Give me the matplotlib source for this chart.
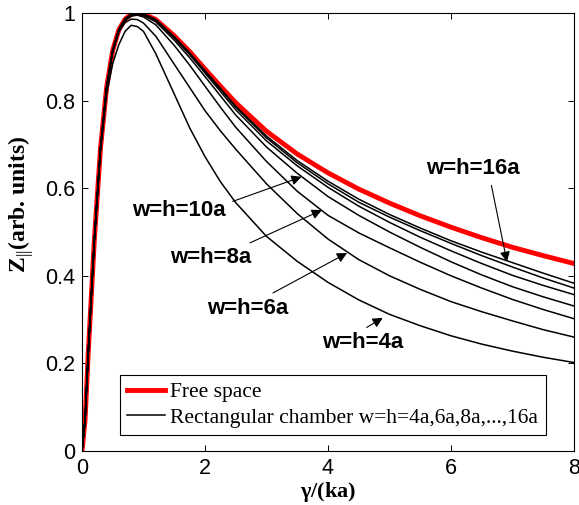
import numpy as np
import matplotlib
matplotlib.use('Agg')
from matplotlib import pyplot as plt

# gamma/(ka) sample points
gamma = [0, 0.05, 0.1, 0.2, 0.3, 0.4, 0.5, 0.6, 0.7, 0.8, 0.9, 1.0, 1.2, 1.5, 1.75,
         2, 2.25, 2.5, 3, 3.5, 4, 4.5, 5, 5.5, 6, 6.5, 7, 7.5, 8]

z_free = [0, .07, .22, .48, .69, .83, .915, .962, .986, .997, 1.0, .998, .985, .948, .912,
          .872, .833, .795, .73, .678, .635, .598, .566, .537, .511, .487, .465, .446, .428]
z_16a = [0, .07, .22, .48, .69, .83, .915, .962, .986, .997, 1.0, .998, .985, .946, .909,
         .868, .828, .787, .719, .663, .616, .575, .540, .509, .480, .454, .430, .406, .383]
z_14a = [0, .07, .22, .48, .69, .83, .915, .962, .986, .997, 1.0, .997, .984, .945, .907,
         .866, .826, .785, .715, .658, .610, .568, .534, .503, .474, .446, .420, .395, .372]
z_12a = [0, .07, .22, .48, .69, .83, .915, .962, .986, .997, .999, .996, .983, .943, .905,
         .863, .821, .779, .708, .651, .602, .559, .522, .488, .457, .428, .401, .378, .357]
z_10a = [0, .07, .22, .48, .69, .83, .915, .962, .985, .996, .998, .995, .980, .938, .898,
         .855, .811, .767, .694, .634, .581, .538, .500, .465, .432, .402, .375, .352, .331]
z_8a = [0, .07, .22, .48, .69, .83, .914, .960, .983, .993, .995, .991, .973, .926, .881,
        .833, .785, .739, .661, .593, .538, .498, .464, .431, .400, .372, .346, .323, .302]
z_6a = [0, .07, .22, .48, .69, .83, .912, .957, .978, .986, .985, .977, .947, .883, .830,
        .777, .731, .689, .610, .542, .484, .437, .400, .369, .341, .318, .297, .277, .260]
z_4a = [0, .07, .22, .48, .685, .815, .885, .928, .958, .972, .969, .958, .907, .815, .738,
        .672, .615, .567, .490, .433, .385, .345, .312, .286, .263, .244, .228, .214, .202]

chamber = [z_4a, z_6a, z_8a, z_10a, z_12a, z_14a, z_16a]

# (label, arrow head, text centre, arrow start on the text box)
notes = [
    ('w=h=10a', (3.57, 0.626), (1.58, 0.55), (1.0, 0.8)),
    ('w=h=8a', (3.90, 0.550), (2.10, 0.441), (0.8, 0.9)),
    ('w=h=6a', (4.31, 0.452), (2.70, 0.326), (0.65, 0.9)),
    ('w=h=4a', (4.89, 0.304), (4.57, 0.247), (0.4, 0.9)),
    ('w=h=16a', (6.91, 0.432), (6.36, 0.646), (0.68, 0.0)),
]

plt.rcParams['mathtext.fontset'] = 'custom'
plt.rcParams['mathtext.rm'] = 'Liberation Serif'
plt.rcParams['mathtext.bf'] = 'Liberation Serif:bold'

fig = plt.figure(figsize=(5.79, 5.05), dpi=100)
ax = fig.add_axes([82 / 579, 54 / 505, 492 / 579, 438 / 505])

ax.plot(gamma, z_free, color='red', lw=3.5, label='Free space', zorder=2)
for i, z in enumerate(chamber):
    ax.plot(gamma, z, color='black', lw=1.1, zorder=3,
            label='Rectangular chamber w=h=4a,6a,8a,...,16a' if i == 0 else None)

for txt, head, pos, rp in notes:
    ax.annotate(txt, xy=head, xytext=pos, ha='center', va='center',
                fontsize=16, fontweight='bold', family='Liberation Sans',
                arrowprops=dict(arrowstyle='-|>', color='black', lw=0.8,
                                mutation_scale=15, shrinkA=3, shrinkB=0,
                                relpos=rp))

ax.set_xlim(0, 8)
ax.set_ylim(0, 1)
ax.set_xticks([0, 2, 4, 6, 8])
ax.set_xticklabels(['0', '2', '4', '6', '8'])
ax.set_yticks([0, 0.2, 0.4, 0.6, 0.8, 1])
ax.set_yticklabels(['0', '0.2', '0.4', '0.6', '0.8', '1'])
ax.tick_params(direction='in', length=4, width=0.7, top=True, right=True,
               labelsize=15.5, pad=5)
for lab in ax.get_xticklabels() + ax.get_yticklabels():
    lab.set_family('Liberation Sans')
for s in ax.spines.values():
    s.set_linewidth(0.8)

ax.set_xlabel(r'$\mathbf{\gamma}$/(ka)', family='Liberation Serif',
              fontweight='bold', fontsize=16, va='center')
ax.set_ylabel(r'$\mathbf{Z}_{||}$(arb. units)', family='Liberation Serif',
              fontweight='bold', fontsize=17, va='center')
ax.xaxis.set_label_coords(0.5, -0.094)
ax.yaxis.set_label_coords(-0.124, 0.564)

leg = ax.legend(loc='lower left', bbox_to_anchor=(0.077, 0.036),
                prop={'family': 'Liberation Serif', 'size': 15.5},
                fancybox=False, framealpha=1, edgecolor='black',
                handlelength=1.75, borderaxespad=0, borderpad=0.35,
                labelspacing=0.25, handletextpad=0.25)
leg.get_frame().set_linewidth(0.8)

plt.savefig('out.png', dpi=100)
plt.close()
